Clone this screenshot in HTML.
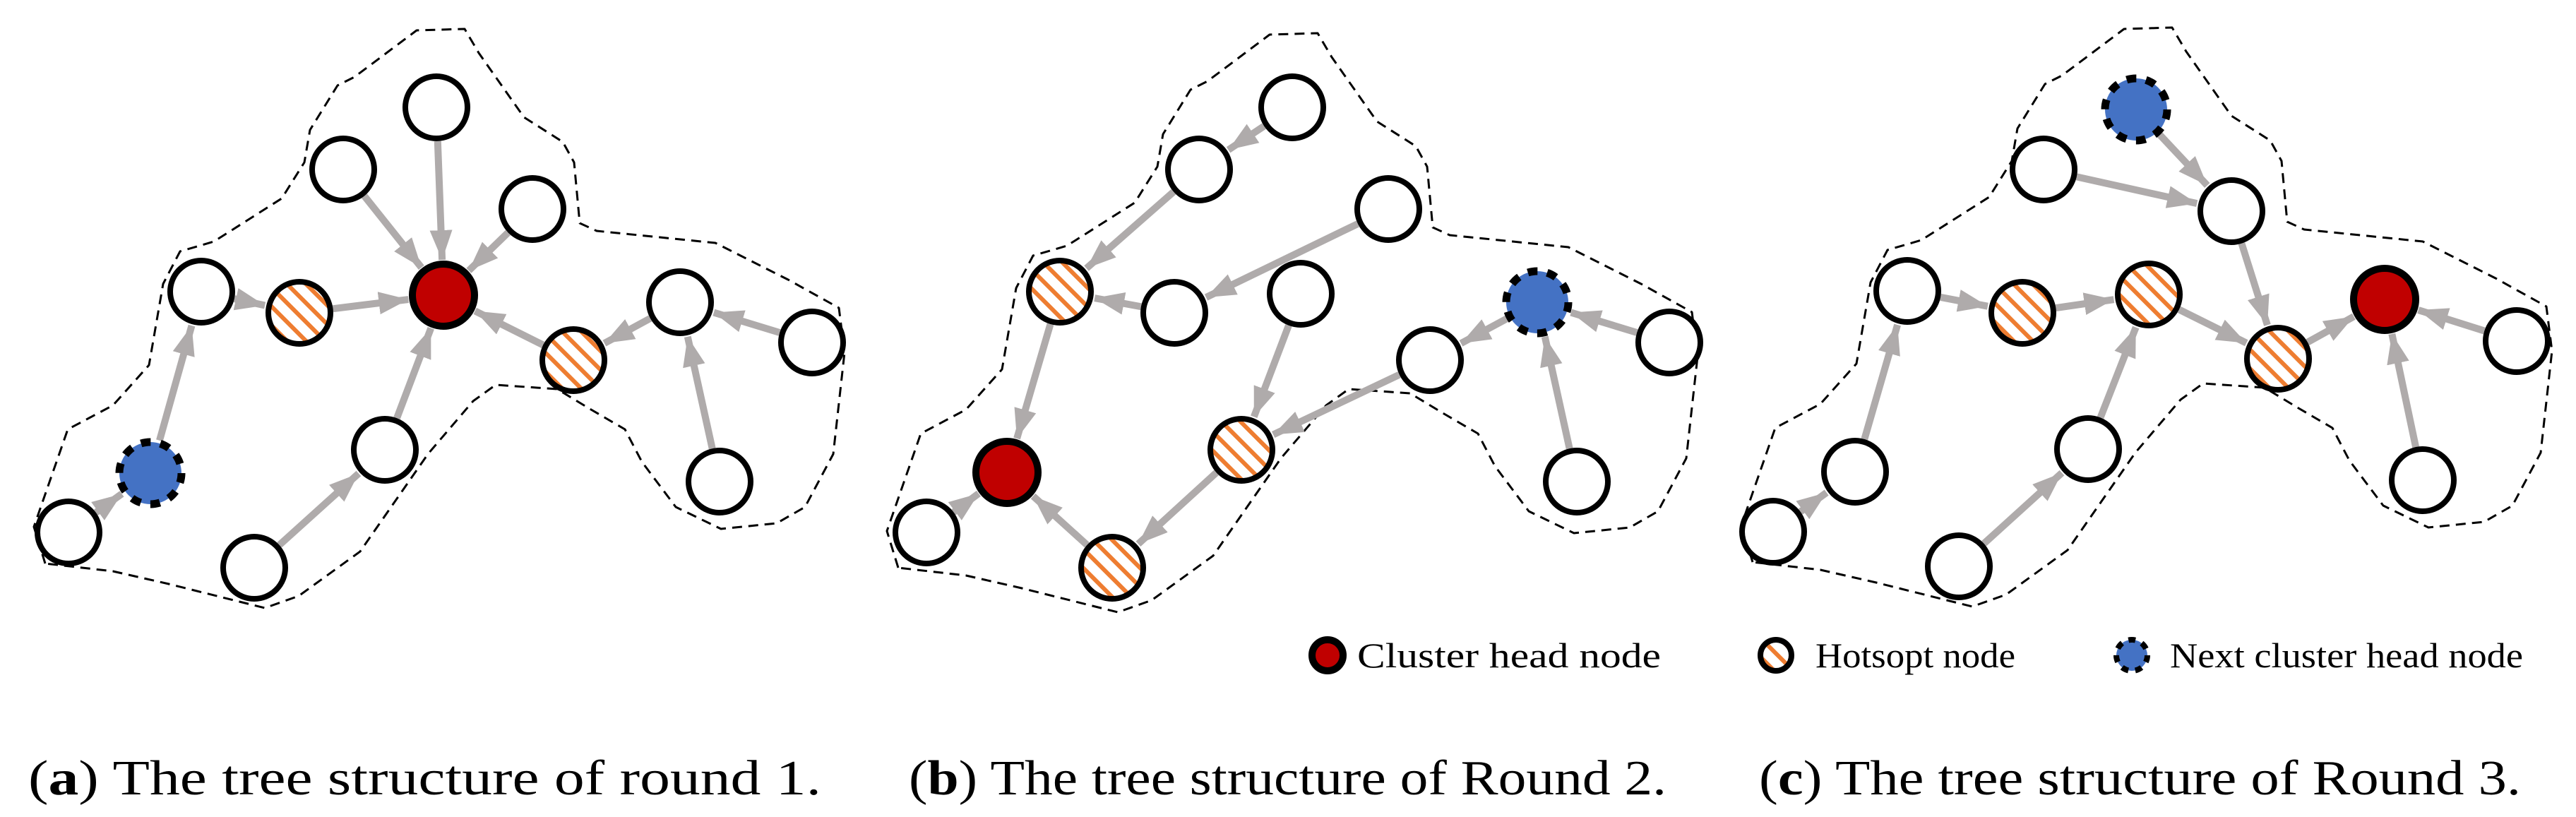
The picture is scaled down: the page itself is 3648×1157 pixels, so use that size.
<!DOCTYPE html>
<html><head><meta charset="utf-8">
<style>
html,body{margin:0;padding:0;background:#fff;}
svg{display:block;}
text{font-family:"Liberation Serif","DejaVu Serif",serif;}
</style></head>
<body>
<svg id="s" width="3648" height="1157" viewBox="0 0 3648 1157" xmlns="http://www.w3.org/2000/svg">
<defs>
<pattern id="hatch" patternUnits="userSpaceOnUse" width="19" height="19" patternTransform="rotate(-45)">
<rect width="19" height="19" fill="#fff"/>
<rect x="0" y="0" width="6" height="19" fill="#ee7d31"/>
</pattern>
<marker id="ah" markerUnits="userSpaceOnUse" markerWidth="44" markerHeight="36" refX="42" refY="18" orient="auto">
<path d="M0,2 L42,18 L0,34 Z" fill="#afabab"/>
</marker>
</defs>
<g id="bounds" fill="none" stroke="#000" stroke-width="3" stroke-dasharray="14 9"></g>
<g id="edges"></g>
<g id="nodes"></g>
<g font-size="50" fill="#000">
<text x="1922" y="945" textLength="430" lengthAdjust="spacingAndGlyphs">Cluster head node</text>
<text x="2571" y="945" textLength="283" lengthAdjust="spacingAndGlyphs">Hotsopt node</text>
<text x="3073" y="945" textLength="500" lengthAdjust="spacingAndGlyphs">Next cluster head node</text>
</g>
<g font-size="70" fill="#000">
<text x="40" y="1125" textLength="1123" lengthAdjust="spacingAndGlyphs">(<tspan font-weight="bold">a</tspan>) The tree structure of round 1.</text>
<text x="1287" y="1125" textLength="1073" lengthAdjust="spacingAndGlyphs">(<tspan font-weight="bold">b</tspan>) The tree structure of Round 2.</text>
<text x="2491" y="1125" textLength="1079" lengthAdjust="spacingAndGlyphs">(<tspan font-weight="bold">c</tspan>) The tree structure of Round 3.</text>
</g>
</svg>
<script>
var NS="http://www.w3.org/2000/svg";
function el(t,a,p){var e=document.createElementNS(NS,t);for(var k in a)e.setAttribute(k,a[k]);document.getElementById(p).appendChild(e);return e;}
var R=44;
function node(x,y,t,r){r=r||R;
 if(t=="w") el("circle",{cx:x,cy:y,r:r,fill:"#fff",stroke:"#000","stroke-width":8},"nodes");
 if(t=="h") el("circle",{cx:x,cy:y,r:r,fill:"url(#hatch)",stroke:"#000","stroke-width":8},"nodes");
 if(t=="r") el("circle",{cx:x,cy:y,r:r,fill:"#c00000",stroke:"#000","stroke-width":10},"nodes");
 if(t=="b"){el("circle",{cx:x,cy:y,r:r,fill:"#4472c4",stroke:"none"},"nodes");
  var n=r>30?10:7;var c=2*Math.PI*r;el("circle",{cx:x,cy:y,r:r,fill:"none",stroke:"#000","stroke-width":r>30?11:8,"stroke-dasharray":(c/n*0.5)+" "+(c/n*0.5)},"nodes");}
}
function edge(a,b){var dx=b[0]-a[0],dy=b[1]-a[1],d=Math.sqrt(dx*dx+dy*dy),ux=dx/d,uy=dy/d;
 var s=R+4,e=R+6;
 el("line",{x1:a[0]+ux*s,y1:a[1]+uy*s,x2:b[0]-ux*e,y2:b[1]-uy*e,stroke:"#afabab","stroke-width":10,"marker-end":"url(#ah)"},"edges");}
function bound(pts,ox,oy){var d="";pts.forEach(function(p,i){d+=(i?" L":"M")+(p[0]+ox)+","+(p[1]+oy);});
 el("path",{d:d+" Z","stroke-linejoin":"round"},"bounds");}
var B=[[64,798],[48,746],[96,608],[160,574],[211,517],[231,402],[255,356],[303,342],[399,281],[431,230],[439,184],[478,121],[502,109],[590,43],[658,41],[678,75],[742,166],[797,201],[813,230],[821,316],[845,327],[1013,344],[1116,396],[1188,436],[1196,499],[1180,643],[1140,718],[1100,741],[1021,749],[957,718],[909,654],[885,608],[837,580],[789,551],[702,545],[670,568],[606,643],[558,712],[510,781],[423,844],[375,861],[239,827],[160,809]];
bound(B,0,0);bound(B,1208,6);bound(B,2418,-2);
var A={t:[618,152],u:[486,240],v:[754,296],l:[285,413],h1:[424,443],r:[628,418],w:[963,428],h2:[812,510],f:[1150,485],br:[1019,682],m:[545,637],bm:[360,804],b:[213,670],bl:[97,754]};
[["t","r"],["u","r"],["v","r"],["l","h1"],["h1","r"],["h2","r"],["w","h2"],["f","w"],["br","w"],["m","r"],["bm","m"],["b","l"],["bl","b"]].forEach(function(e){edge(A[e[0]],A[e[1]]);});
var Bn={a:[1830,152],c:[1698,240],d:[1966,296],h1:[1501,413],e:[1663,443],g:[1842,416],b:[2177,428],k:[2025,510],f:[2364,485],br:[2233,682],h2:[1758,637],r:[1426,669],bl:[1312,754],h3:[1575,804]};
[["a","c"],["c","h1"],["d","e"],["e","h1"],["h1","r"],["g","h2"],["k","h2"],["h2","h3"],["h3","r"],["bl","r"],["b","k"],["f","b"],["br","b"]].forEach(function(e){edge(Bn[e[0]],Bn[e[1]]);});
var C={b:[3025,155],u:[2894,240],v:[3160,299],l:[2701,412],h1:[2864,443],h2:[3043,417],h3:[3226,508],r:[3377,424],f:[3564,483],br:[3431,680],m:[2957,636],bm:[2774,802],x:[2627,668],bl:[2511,753]};
[["b","v"],["u","v"],["v","h3"],["l","h1"],["h1","h2"],["h2","h3"],["h3","r"],["f","r"],["br","r"],["m","h2"],["bm","m"],["x","l"],["bl","x"]].forEach(function(e){edge(C[e[0]],C[e[1]]);});
function nodes(N,types){for(var k in N){node(N[k][0],N[k][1],types[k]||"w");}}
nodes(A,{h1:"h",h2:"h",r:"r",b:"b"});
nodes(Bn,{h1:"h",h2:"h",h3:"h",r:"r",b:"b"});
nodes(C,{h1:"h",h2:"h",h3:"h",r:"r",b:"b"});
node(1880,928,"r",22);node(2515,928,"h",22);node(3019,928,"b",22);
</script>
</body></html>
